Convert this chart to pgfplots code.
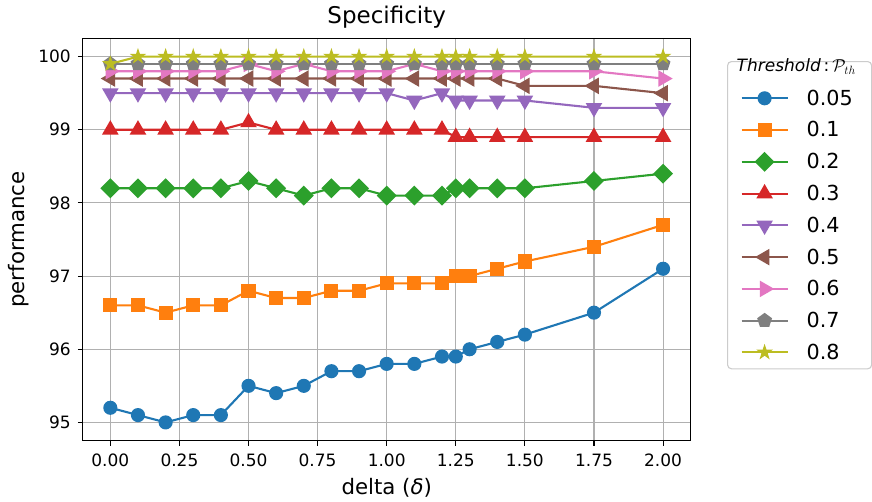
\documentclass[border=0pt]{standalone}
\usepackage{fontspec}
\setmainfont{DejaVu Sans}
\usepackage{pgfplots}
\pgfplotsset{compat=1.18}
\usetikzlibrary{plotmarks}
\definecolor{c0}{HTML}{1F77B4}
\definecolor{c1}{HTML}{FF7F0E}
\definecolor{c2}{HTML}{2CA02C}
\definecolor{c3}{HTML}{D62728}
\definecolor{c4}{HTML}{9467BD}
\definecolor{c5}{HTML}{8C564B}
\definecolor{c6}{HTML}{E377C2}
\definecolor{c7}{HTML}{7F7F7F}
\definecolor{c8}{HTML}{BCBD22}
\definecolor{gridgray}{RGB}{176,176,176}
\definecolor{leggray}{RGB}{204,204,204}
\pgfdeclareplotmark{fstar}{%
  \pgfpathmoveto{\pgfpointpolar{90}{\pgfplotmarksize}}%
  \pgfpathlineto{\pgfpointpolar{126}{0.382\pgfplotmarksize}}%
  \pgfpathlineto{\pgfpointpolar{162}{\pgfplotmarksize}}%
  \pgfpathlineto{\pgfpointpolar{198}{0.382\pgfplotmarksize}}%
  \pgfpathlineto{\pgfpointpolar{234}{\pgfplotmarksize}}%
  \pgfpathlineto{\pgfpointpolar{270}{0.382\pgfplotmarksize}}%
  \pgfpathlineto{\pgfpointpolar{306}{\pgfplotmarksize}}%
  \pgfpathlineto{\pgfpointpolar{342}{0.382\pgfplotmarksize}}%
  \pgfpathlineto{\pgfpointpolar{18}{\pgfplotmarksize}}%
  \pgfpathlineto{\pgfpointpolar{54}{0.382\pgfplotmarksize}}%
  \pgfpathclose\pgfusepathqfillstroke}

\pgfplotstableread{
x     a     b     c     d     e     f     g     h     i
0.00  95.2  96.6  98.2  99.0  99.5  99.7  99.8  99.9  99.9
0.10  95.1  96.6  98.2  99.0  99.5  99.7  99.8  99.9  100.0
0.20  95.0  96.5  98.2  99.0  99.5  99.7  99.8  99.9  100.0
0.30  95.1  96.6  98.2  99.0  99.5  99.7  99.8  99.9  100.0
0.40  95.1  96.6  98.2  99.0  99.5  99.7  99.8  99.9  100.0
0.50  95.5  96.8  98.3  99.1  99.5  99.7  99.9  99.9  100.0
0.60  95.4  96.7  98.2  99.0  99.5  99.7  99.8  99.9  100.0
0.70  95.5  96.7  98.1  99.0  99.5  99.7  99.9  99.9  100.0
0.80  95.7  96.8  98.2  99.0  99.5  99.7  99.8  99.9  100.0
0.90  95.7  96.8  98.2  99.0  99.5  99.7  99.8  99.9  100.0
1.00  95.8  96.9  98.1  99.0  99.5  99.7  99.8  99.9  100.0
1.10  95.8  96.9  98.1  99.0  99.4  99.7  99.9  99.9  100.0
1.20  95.9  96.9  98.1  99.0  99.5  99.7  99.8  99.9  100.0
1.25  95.9  97.0  98.2  98.9  99.4  99.7  99.8  99.9  100.0
1.30  96.0  97.0  98.2  98.9  99.4  99.7  99.8  99.9  100.0
1.40  96.1  97.1  98.2  98.9  99.4  99.7  99.8  99.9  100.0
1.50  96.2  97.2  98.2  98.9  99.4  99.6  99.8  99.9  100.0
1.75  96.5  97.4  98.3  98.9  99.3  99.6  99.8  99.9  100.0
2.00  97.1  97.7  98.4  98.9  99.3  99.5  99.7  99.9  100.0
}\data

\begin{document}
\begin{tikzpicture}
\useasboundingbox (-82.7pt,-60.3pt) rectangle (789.3pt,440.7pt);
\begin{axis}[
  at={(0pt,0pt)}, anchor=south west,
  width=608pt, height=402.4pt, scale only axis,
  xmin=-0.1, xmax=2.1, ymin=94.75, ymax=100.25,
  xtick={0,0.25,0.5,0.75,1,1.25,1.5,1.75,2},
  ytick={95,96,97,98,99,100},
  xticklabel style={/pgf/number format/fixed, /pgf/number format/fixed zerofill, /pgf/number format/precision=2, yshift=-5pt},
  yticklabel style={/pgf/number format/fixed, /pgf/number format/precision=0, xshift=-3.5pt},
  /pgf/number format/assume math mode=true,
  tick label style={font=\fontsize{17}{20}\selectfont},
  tick align=outside, major tick length=4.9pt,
  tick style={black, line width=1.1pt},
  xtick pos=lower, ytick pos=left,
  axis line style={black, line width=1.1pt},
  grid=major, major grid style={gridgray, line width=1.1pt},
  title={Specificity},
  title style={at={(0.5,1)}, anchor=base, yshift=9pt, font=\fontsize{23}{27}\selectfont},
  xlabel={delta (\textit{δ})},
  xlabel style={at={(0.5,0)}, anchor=base, yshift=-53.3pt, font=\fontsize{21.3}{25}\selectfont},
  ylabel={performance},
  ylabel style={at={(0,0.5)}, anchor=center, yshift=63.7pt, font=\fontsize{21.3}{25}\selectfont},
  every axis plot/.append style={line width=2.1pt},
  legend image code/.code={\draw[mark repeat=2, mark phase=2] plot coordinates {(0pt,0pt) (23pt,0pt) (46pt,0pt)};},
  legend cell align=left,
  legend style={at={(1,1)}, anchor=north west, xshift=36.3pt, yshift=-22.7pt,
    draw=leggray, line width=1.1pt, rounded corners=4pt, fill=white,
    font=\fontsize{20.7}{24}\selectfont, row sep=10.9pt, column sep=16pt,
    inner xsep=13pt, inner ysep=6pt},
]
\addlegendimage{empty legend}
\addlegendentry{\makebox[50pt][l]{\hspace*{-70pt}\fontsize{17}{20}\selectfont\raisebox{2pt}[\dimexpr\height-9pt\relax][0pt]{\textit{Threshold}\,:\,$\mathcal{P}_{th}$}}}
\addplot[c0, mark=*, mark size=6pt, mark options={fill=c0, draw=c0}] table[x=x, y=a] {\data};
\addlegendentry{0.05}
\addplot[c1, mark=square*, mark size=6pt, mark options={fill=c1, draw=c1}] table[x=x, y=b] {\data};
\addlegendentry{0.1}
\addplot[c2, mark=square*, mark size=6pt, mark options={fill=c2, draw=c2, rotate=45}] table[x=x, y=c] {\data};
\addlegendentry{0.2}
\addplot[c3, mark=triangle*, mark size=7.5pt, mark options={fill=c3, draw=c3}] table[x=x, y=d] {\data};
\addlegendentry{0.3}
\addplot[c4, mark=triangle*, mark size=7.5pt, mark options={fill=c4, draw=c4, rotate=180}] table[x=x, y=e] {\data};
\addlegendentry{0.4}
\addplot[c5, mark=triangle*, mark size=7.5pt, mark options={fill=c5, draw=c5, rotate=90}] table[x=x, y=f] {\data};
\addlegendentry{0.5}
\addplot[c6, mark=triangle*, mark size=7.5pt, mark options={fill=c6, draw=c6, rotate=-90}] table[x=x, y=g] {\data};
\addlegendentry{0.6}
\addplot[c7, mark=pentagon*, mark size=6.5pt, mark options={fill=c7, draw=c7}] table[x=x, y=h] {\data};
\addlegendentry{0.7}
\addplot[c8, mark=fstar, mark size=7pt, mark options={fill=c8, draw=c8, line width=1pt}] table[x=x, y=i] {\data};
\addlegendentry{0.8}
\end{axis}
\end{tikzpicture}
\end{document}
